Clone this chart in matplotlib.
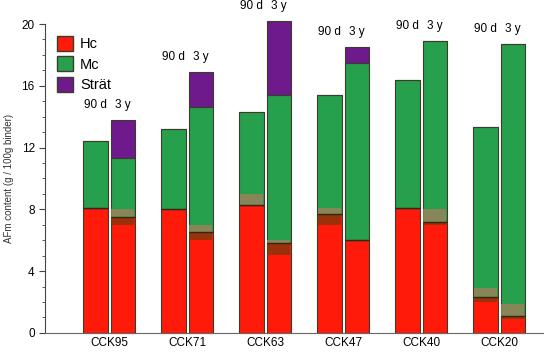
import numpy as np
import matplotlib.pyplot as plt
from matplotlib.patches import Patch

plt.rcParams['font.family'] = ['Liberation Sans', 'DejaVu Sans']

groups = ['CCK95', 'CCK71', 'CCK63', 'CCK47', 'CCK40', 'CCK20']
ages = ['90 d', '3 y']

# stacked contents (g / 100 g binder)
hc_90 = [8.1, 8.0, 8.3, 7.7, 8.1, 2.3]
mc_90 = [4.3, 5.2, 6.0, 7.7, 8.3, 11.0]
st_90 = [0.0, 0.0, 0.0, 0.0, 0.0, 0.0]
hc_3y = [7.5, 6.5, 5.8, 6.0, 7.2, 1.1]
mc_3y = [3.8, 8.1, 9.6, 11.5, 11.7, 17.6]
st_3y = [2.5, 2.3, 4.8, 1.0, 0.0, 0.0]

# uncertainty range of the Hc/Mc boundary
hc_lo_90 = [8.1, 8.0, 8.3, 7.0, 8.1, 2.0]
hc_hi_90 = [8.1, 8.0, 9.0, 8.1, 8.1, 2.9]
hc_lo_3y = [7.0, 6.0, 5.05, 6.0, 7.0, 0.9]
hc_hi_3y = [8.0, 7.0, 6.0, 6.0, 8.0, 1.9]

red = '#FF1A0A'
green = '#27A04E'
purple = '#6E1A8C'
edge = '#3C3C2C'

fig = plt.figure(figsize=(5.5, 3.53), dpi=100)
ax = fig.add_axes([0.082, 0.057, 0.905, 0.875])

x = np.arange(len(groups))
w = 0.31
off = 0.175

series = [(hc_90, mc_90, st_90, hc_lo_90, hc_hi_90, -off),
          (hc_3y, mc_3y, st_3y, hc_lo_3y, hc_hi_3y, off)]
for hc, mc, st, lo, hi, dx in series:
    hc = np.array(hc); mc = np.array(mc); st = np.array(st)
    ax.bar(x + dx, hc, w, color=red, edgecolor=edge, lw=0.8, clip_on=False)
    ax.bar(x + dx, mc, w, bottom=hc, color=green, edgecolor=edge, lw=0.8, clip_on=False)
    ax.bar(x + dx, st, w, bottom=hc + mc, color=purple, edgecolor=edge, lw=0.8, clip_on=False)
    lo = np.array(lo); hi = np.array(hi)
    ax.bar(x + dx, hc - lo, w * 0.96, bottom=lo, color='#7A3A0A', alpha=0.75, lw=0)
    ax.bar(x + dx, hi - hc, w * 0.96, bottom=hc, color='#A0805C', alpha=0.8, lw=0)
    ax.bar(x + dx, 0.0, w, bottom=hc, color='none', edgecolor='#2A2A10', lw=1.0)

tot90 = np.array(hc_90) + np.array(mc_90) + np.array(st_90)
tot3y = np.array(hc_3y) + np.array(mc_3y) + np.array(st_3y)
for i in range(len(groups)):
    ytxt = max(tot90[i], tot3y[i]) + 0.95
    ax.text(x[i] - off, ytxt, ages[0], ha='center', va='center', fontsize=8.5, clip_on=False)
    ax.text(x[i] + off, ytxt, ages[1], ha='center', va='center', fontsize=8.5, clip_on=False)

ax.set_xlim(-0.82, 5.56)
ax.set_ylim(0, 20)
ax.set_yticks([0, 4, 8, 12, 16, 20])
ax.set_yticks(np.arange(0, 21, 1), minor=True)
ax.set_xticks(x)
ax.set_xticklabels(groups, fontsize=8.5)
ax.tick_params(axis='x', length=0, pad=3)
ax.tick_params(axis='y', labelsize=8.5, length=4, color='#444444')
ax.tick_params(axis='y', which='minor', length=2, color='#444444')
for s in ['top', 'right']:
    ax.spines[s].set_visible(False)
ax.spines['left'].set_color('#444444')
ax.spines['bottom'].set_color('#666666')
ax.set_ylabel('AFm content (g / 100g binder)', fontsize=7, color='#333333', labelpad=5)

handles = [Patch(facecolor=red, edgecolor=edge, label='Hc'),
           Patch(facecolor=green, edgecolor=edge, label='Mc'),
           Patch(facecolor=purple, edgecolor=edge, label='Strät')]
ax.legend(handles=handles, loc='upper left', bbox_to_anchor=(0.0, 1.0), frameon=False,
          fontsize=10.5, handlelength=1.1, handleheight=1.2, handletextpad=0.5,
          labelspacing=0.35, borderaxespad=0.4)

plt.savefig('out.png', dpi=100)
